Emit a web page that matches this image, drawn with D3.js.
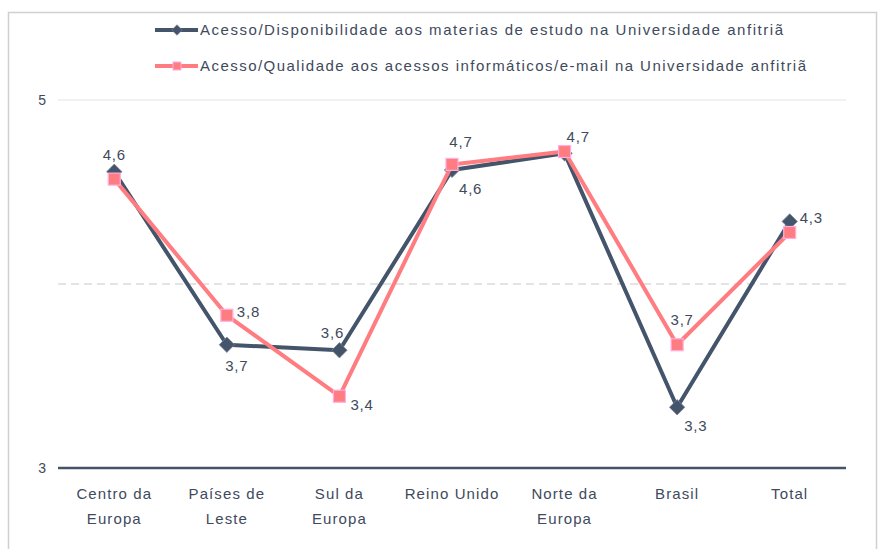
<!DOCTYPE html>
<html>
<head>
<meta charset="utf-8">
<script src="https://cdn.jsdelivr.net/npm/d3@7"></script>
<style>
  body { margin: 0; background: #fff; }
  text { font-family: "Liberation Sans", Arial, sans-serif; fill: #404a5c; }
</style>
</head>
<body>
<div id="chart"></div>
<script>
var svgWidth = 880;
var svgHeight = 549;

// Data
var categories = [["Centro da", "Europa"], ["Países de", "Leste"], ["Sul da", "Europa"], ["Reino Unido"], ["Norte da", "Europa"], ["Brasil"], ["Total"]];
var seriesNames = ["Acesso/Disponibilidade aos materias de estudo na Universidade anfitriã",
                   "Acesso/Qualidade aos acessos informáticos/e-mail na Universidade anfitriã"];
var disponibilidade = [4.61, 3.67, 3.64, 4.62, 4.71, 3.33, 4.34];
var qualidade = [4.57, 3.83, 3.39, 4.65, 4.72, 3.67, 4.28];
var yTicks = [3, 5];

// where each value label sits (null = not shown)
var labelsDisp = ["above", "below", "above", "belowright", null, "belowright", "right"];
var labelsQual = [null, "right", "rightbelow", "above", "aboveright", "above", null];

var margin = { left: 58, right: 34, top: 100, bottom: 81 };
var width = svgWidth - margin.left - margin.right;
var height = svgHeight - margin.top - margin.bottom;

var darkColor = "#44546a";
var pinkColor = "#ff7c80";

var svg = d3.select("#chart")
  .append("svg")
  .attr("width", svgWidth)
  .attr("height", svgHeight);

// outer frame
svg.append("rect")
  .attr("x", 8.5).attr("y", 12.5)
  .attr("width", 868).attr("height", 560)
  .attr("fill", "none")
  .attr("stroke", "#d0d0d0")
  .attr("stroke-width", 1.5);

var chartGroup = svg.append("g")
  .attr("transform", `translate(${margin.left}, ${margin.top})`);

var xScale = d3.scalePoint()
  .domain(d3.range(categories.length))
  .range([0, width])
  .padding(0.5);

var yScale = d3.scaleLinear()
  .domain([3, 5])
  .range([height, 0]);

// gridlines
chartGroup.append("line")
  .attr("x1", 0).attr("x2", width)
  .attr("y1", yScale(5)).attr("y2", yScale(5))
  .attr("stroke", "#e3e3e3").attr("stroke-width", 1);

chartGroup.append("line")
  .attr("x1", 0).attr("x2", width)
  .attr("y1", yScale(4)).attr("y2", yScale(4))
  .attr("stroke", "#c8c8c8").attr("stroke-width", 1)
  .attr("stroke-dasharray", "8,5");

// y axis labels
var leftAxis = d3.axisLeft(yScale).tickValues(yTicks).tickSize(0).tickPadding(12).tickFormat(d3.format("d"));
var yAxis = chartGroup.append("g").call(leftAxis);
yAxis.select(".domain").remove();
yAxis.selectAll("text")
  .style("font-size", "14px")
  .style("font-family", "'Liberation Sans', Arial, sans-serif")
  .attr("fill", "#404a5c");

// x baseline
chartGroup.append("line")
  .attr("x1", 0).attr("x2", width)
  .attr("y1", yScale(3)).attr("y2", yScale(3))
  .attr("stroke", darkColor).attr("stroke-width", 2.5);

// x category labels
var catText = chartGroup.selectAll(".cat")
  .data(categories)
  .enter()
  .append("text")
  .attr("class", "cat")
  .attr("text-anchor", "middle")
  .style("font-size", "15px")
  .style("letter-spacing", "1.1px")
  .attr("transform", (d, i) => `translate(${xScale(i)}, ${height + 31})`);

catText.selectAll("tspan")
  .data(d => d)
  .enter()
  .append("tspan")
  .attr("x", 0)
  .attr("y", (d, i) => i * 25)
  .text(d => d);

var line = d3.line()
  .x((d, i) => xScale(i))
  .y(d => yScale(d));

// dark series
chartGroup.append("path")
  .datum(disponibilidade)
  .attr("d", line)
  .attr("fill", "none")
  .attr("stroke", darkColor)
  .attr("stroke-width", 4)
  .attr("stroke-linejoin", "round");

var diamond = d3.symbol().type(d3.symbolDiamond2).size(150);

chartGroup.selectAll(".dia")
  .data(disponibilidade)
  .enter()
  .append("path")
  .attr("class", "dia")
  .attr("d", diamond)
  .attr("transform", (d, i) => `translate(${xScale(i)}, ${yScale(d)})`)
  .attr("fill", darkColor)
  .attr("stroke", "#7a8596")
  .attr("stroke-width", 0.8);

// pink series
chartGroup.append("path")
  .datum(qualidade)
  .attr("d", line)
  .attr("fill", "none")
  .attr("stroke", pinkColor)
  .attr("stroke-width", 4)
  .attr("stroke-linejoin", "round");

chartGroup.selectAll(".sq")
  .data(qualidade)
  .enter()
  .append("rect")
  .attr("class", "sq")
  .attr("x", (d, i) => xScale(i) - 6)
  .attr("y", d => yScale(d) - 6)
  .attr("width", 12)
  .attr("height", 12)
  .attr("fill", pinkColor)
  .attr("stroke", "#ffaee0")
  .attr("stroke-width", 1.2);

// value labels
var offsets = {
  above:      { dx: 0,  dy: -12, anchor: "middle" },
  below:      { dx: 10, dy: 26,  anchor: "middle" },
  belowright: { dx: 7,  dy: 24,  anchor: "start" },
  right:      { dx: 10, dy: 2,   anchor: "start" },
  rightbelow: { dx: 11, dy: 14,  anchor: "start" },
  aboveright: { dx: 2,  dy: -10, anchor: "start" }
};

function fmt(v) { return d3.format(".1f")(v).replace(".", ","); }

function addLabels(values, places, extra) {
  chartGroup.selectAll(null)
    .data(values.map((v, i) => ({ v: v, i: i, p: places[i] })).filter(d => d.p))
    .enter()
    .append("text")
    .attr("x", d => xScale(d.i) + offsets[d.p].dx + (extra[d.i] ? extra[d.i][0] : 0))
    .attr("y", d => yScale(d.v) + offsets[d.p].dy + (extra[d.i] ? extra[d.i][1] : 0))
    .attr("text-anchor", d => offsets[d.p].anchor)
    .style("font-size", "15px")
    .style("letter-spacing", "0.8px")
    .text(d => fmt(d.v));
}

addLabels(disponibilidade, labelsDisp, { 2: [-7, 0] });
addLabels(qualidade, labelsQual, { 3: [9, -5], 5: [5, -8] });

// legend
var legend = svg.append("g");
var legendRows = [
  { name: seriesNames[0], color: darkColor, y: 30, marker: "diamond", len: 583 },
  { name: seriesNames[1], color: pinkColor, y: 66, marker: "square", len: 606 }
];

legendRows.forEach(function(r) {
  legend.append("line")
    .attr("x1", 155).attr("x2", 198)
    .attr("y1", r.y).attr("y2", r.y)
    .attr("stroke", r.color).attr("stroke-width", 4);
  if (r.marker === "diamond") {
    legend.append("path")
      .attr("d", d3.symbol().type(d3.symbolDiamond2).size(70))
      .attr("transform", `translate(177, ${r.y})`)
      .attr("fill", r.color)
      .attr("stroke", "#7a8596").attr("stroke-width", 0.6);
  } else {
    legend.append("rect")
      .attr("x", 173).attr("y", r.y - 4)
      .attr("width", 8).attr("height", 8)
      .attr("fill", r.color)
      .attr("stroke", "#ffaee0").attr("stroke-width", 1);
  }
  legend.append("text")
    .attr("x", 200)
    .attr("y", r.y + 5)
    .style("font-size", "15px")
    .attr("textLength", r.len)
    .attr("lengthAdjust", "spacing")
    .text(r.name);
});
</script>
</body>
</html>
